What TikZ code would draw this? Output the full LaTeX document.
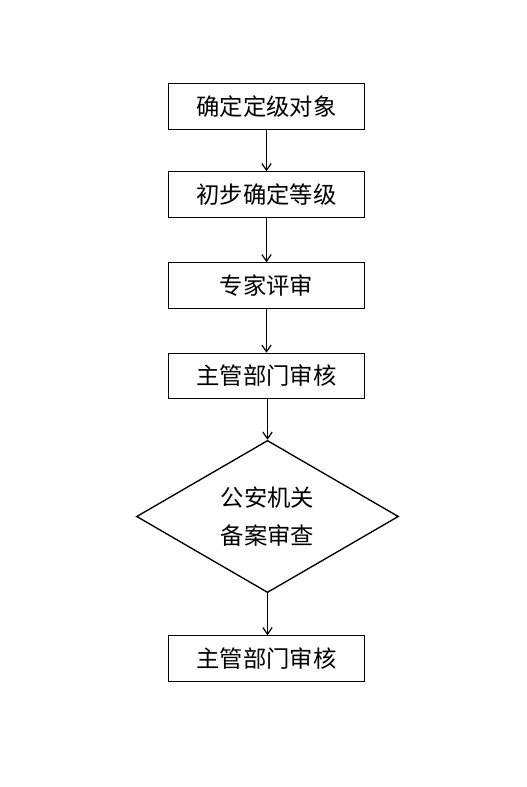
\documentclass[tikz,border=0pt]{standalone}
\usepackage{fontspec}
\setmainfont{Noto Sans CJK SC}
\usetikzlibrary{shapes.geometric,arrows.meta}

\begin{document}
\begin{tikzpicture}[
                    >={Straight Barb[length=5pt,width=7pt]},
                x=0.75pt, y=-0.75pt,
                stepbox/.style={draw, line width=0.9pt, minimum width=147pt,
                    minimum height=34pt, inner sep=0pt,
                    font=\fontsize{17.5}{20}\selectfont},
                checkbox/.style={draw, diamond, line width=1pt, minimum width=196.5pt,
                    minimum height=113pt, inner sep=0pt, align=center,
                    font=\fontsize{17.5}{28}\selectfont}]

                \useasboundingbox (0,0) rectangle (527,787);

                \draw(266.5,106.5) node[stepbox] (A) {确定定级对象};
                \draw(266.5,194.5) node[stepbox] (B) {初步确定等级};
                \draw(266.5,285.5) node[stepbox] (C) {专家评审};
                \draw(266.5,376) node[stepbox] (D) {主管部门审核};
                \draw(267.5,516.5) node[checkbox] (E) {公安机关\\备案审查};
                \draw(266.5,658.5) node[stepbox] (F) {主管部门审核};

                \draw[->,line width=0.9pt] (A) to (B);
                \draw[->,line width=0.9pt] (B) to (C);
                \draw[->,line width=0.9pt] (C) to (D);
                \draw[->,line width=0.9pt] (D.south -| E.north) to (E.north);
                \draw[->,line width=0.9pt] (E.south) to (E.south |- F.north);

            \end{tikzpicture}
\end{document}
